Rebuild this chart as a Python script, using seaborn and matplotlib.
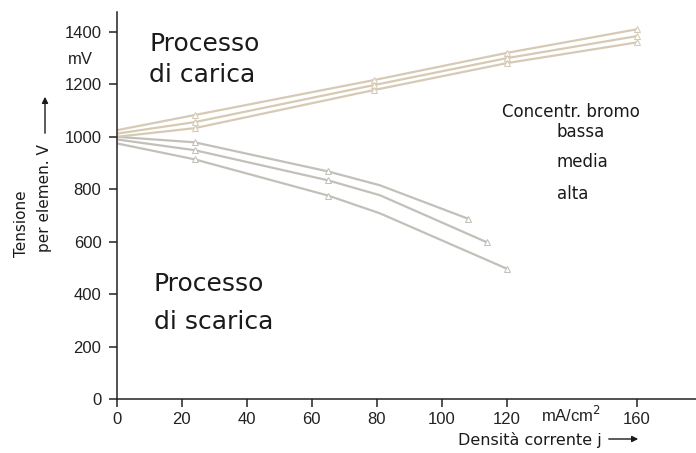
import numpy as np
import pandas as pd
import matplotlib
matplotlib.use("Agg")
import matplotlib.pyplot as plt
import seaborn as sns

sns.set_theme(style="white")
plt.rcParams['font.family'] = ['DejaVu Sans']

# ---- dati ----
concentrazioni = ["bassa", "media", "alta"]

x_carica = [0, 24, 79, 120, 160]
carica_bassa = [1025, 1083, 1216, 1320, 1410]
carica_media = [1012, 1056, 1197, 1300, 1384]
carica_alta = [1000, 1033, 1178, 1281, 1360]

x_scarica_bassa = [0, 24, 65, 81, 108]
scarica_bassa = [1000, 979, 868, 815, 688]
x_scarica_media = [0, 24, 65, 81, 114]
scarica_media = [990, 949, 834, 777, 597]
x_scarica_alta = [0, 24, 65, 81, 120]
scarica_alta = [975, 914, 776, 708, 497]

x_ticks = [0, 20, 40, 60, 80, 100, 120, 160]
y_ticks = [0, 200, 400, 600, 800, 1000, 1200, 1400]

# tabella lunga per seaborn
righe = []
for conc, ys in zip(concentrazioni, [carica_bassa, carica_media, carica_alta]):
    for x, y in zip(x_carica, ys):
        righe.append(("carica", conc, x, y))
for conc, xs, ys in zip(concentrazioni,
                        [x_scarica_bassa, x_scarica_media, x_scarica_alta],
                        [scarica_bassa, scarica_media, scarica_alta]):
    for x, y in zip(xs, ys):
        righe.append(("scarica", conc, x, y))
df = pd.DataFrame(righe, columns=["processo", "conc", "j", "V"])

fig = plt.figure(figsize=(6.96, 4.53), dpi=100)
ax = fig.add_axes([116.7 / 696, 1 - 399 / 453, 579.3 / 696, 387 / 453])

col_carica = "#d6cab5"
col_scarica = "#c3c0ba"

for conc in concentrazioni:
    d = df[(df.processo == "carica") & (df.conc == conc)]
    sns.lineplot(data=d, x="j", y="V", ax=ax, color=col_carica, lw=1.6,
                 marker="^", markersize=5, markerfacecolor="white",
                 markeredgecolor=col_carica, markevery=[1, 2, 3, 4],
                 estimator=None, sort=False)
    d = df[(df.processo == "scarica") & (df.conc == conc)]
    sns.lineplot(data=d, x="j", y="V", ax=ax, color=col_scarica, lw=1.6,
                 marker="^", markersize=5, markerfacecolor="white",
                 markeredgecolor=col_scarica, markevery=[1, 2, 4],
                 estimator=None, sort=False)

ax.set_xlim(0, 178.2)
ax.set_ylim(0, 1476)
ax.set_xticks(x_ticks)
ax.set_yticks(y_ticks)
tick_font = ['Liberation Sans', 'DejaVu Sans']
ax.set_xticklabels([str(t) for t in x_ticks], family=tick_font, fontsize=12, color="#222222")
ax.set_yticklabels([str(t) for t in y_ticks], family=tick_font, fontsize=12, color="#222222")
ax.tick_params(axis="both", direction="out", length=6, width=1.1, color="#222222",
               bottom=True, left=True)
ax.tick_params(axis="x", pad=3)
ax.tick_params(axis="y", pad=5)
for s in ["top", "right"]:
    ax.spines[s].set_visible(False)
for s in ["left", "bottom"]:
    ax.spines[s].set_color("#222222")
    ax.spines[s].set_linewidth(1.1)
ax.set_xlabel("")
ax.set_ylabel("")

# testi
testo = dict(fontsize=18, va="center", ha="left", color="#1a1a1a")
fig.text(149 / 696, 1 - 44 / 453, "Processo", **testo)
fig.text(149 / 696, 1 - 75 / 453, "di carica", **testo)
fig.text(154 / 696, 1 - 284 / 453, "Processo", **testo)
fig.text(154 / 696, 1 - 322 / 453, "di scarica", **testo)

fig.text(502 / 696, 1 - 112 / 453, "Concentr. bromo", fontsize=12, va="center",
         ha="left", color="#1a1a1a")
for lab, yp in zip(concentrazioni, [132, 162, 194]):
    fig.text(557 / 696, 1 - yp / 453, lab, fontsize=12, va="center", ha="left",
             color="#1a1a1a")

fig.text(80 / 696, 1 - 60 / 453, "mV", fontsize=12, family=tick_font, va="center",
         ha="center", color="#222222")
fig.text(571 / 696, 1 - 415 / 453, "mA/cm$^2$", fontsize=12, family=tick_font,
         va="center", ha="center", color="#222222")

fig.text(22 / 696, 1 - 224 / 453, "Tensione", rotation=90, fontsize=11,
         va="center", ha="center", color="#1a1a1a")
fig.text(45 / 696, 1 - 198 / 453, "per elemen. V", rotation=90, fontsize=11,
         va="center", ha="center", color="#1a1a1a")
fig.patches.append(matplotlib.patches.FancyArrowPatch(
    (45 / 696, 1 - 136 / 453), (45 / 696, 1 - 94 / 453),
    transform=fig.transFigure, arrowstyle="-|>", mutation_scale=9,
    color="#1a1a1a", lw=1))

fig.text(602 / 696, 1 - 440 / 453, "Densità corrente j", fontsize=11.5,
         va="center", ha="right", color="#1a1a1a")
fig.patches.append(matplotlib.patches.FancyArrowPatch(
    (606 / 696, 1 - 439 / 453), (641 / 696, 1 - 439 / 453),
    transform=fig.transFigure, arrowstyle="-|>", mutation_scale=9,
    color="#1a1a1a", lw=1))

fig.savefig("out.png", dpi=100)
